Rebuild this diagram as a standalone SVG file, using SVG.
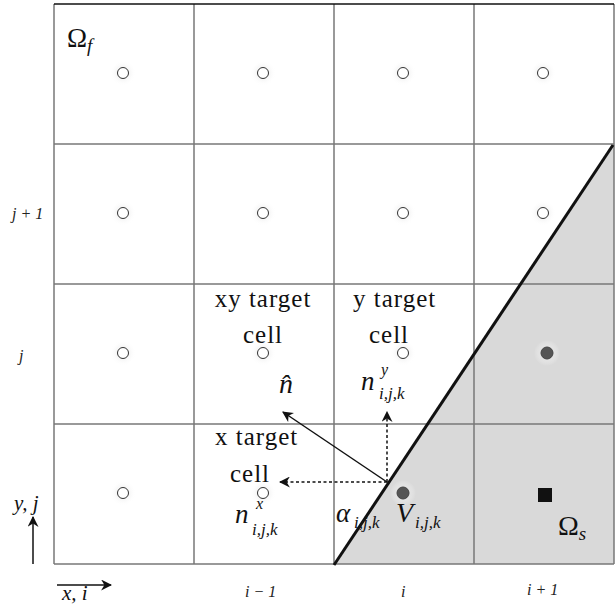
<svg xmlns="http://www.w3.org/2000/svg" width="616" height="606" viewBox="0 0 616 606">
<style>
.grid{stroke:#777;stroke-width:1.5;fill:none}
.t{font-family:"Liberation Serif",serif;font-size:25px;letter-spacing:1px;fill:#111}
.m{font-family:"Liberation Serif",serif;font-style:italic;fill:#111}
.up{font-family:"Liberation Serif",serif;font-style:normal;fill:#111}
.ax{font-family:"Liberation Serif",serif;font-style:italic;font-size:16px;fill:#222}
.c{fill:#fff;stroke:#333;stroke-width:1}
.f{fill:#555;stroke:#444;stroke-width:1}
.sol{stroke:#111;stroke-width:1.5;fill:none}
.dash{stroke:#111;stroke-width:1.5;stroke-dasharray:3,2.5;fill:none}
</style>
<defs>
<radialGradient id="glow">
<stop offset="0" stop-color="#ddd" stop-opacity="1"/>
<stop offset="1" stop-color="#fff" stop-opacity="0"/>
</radialGradient>
<marker id="ah" viewBox="0 0 10 10" refX="9" refY="5" markerWidth="11" markerHeight="11" markerUnits="userSpaceOnUse" orient="auto">
<path d="M0,0 L10,5 L0,10 L3,5 Z" fill="#111"/>
</marker>
</defs>
<rect width="616" height="606" fill="#fff"/>
<g id="solid-region">
<polygon points="334,564 614,144 614,564" fill="#d9d9d9"/>
</g>
<g id="grid">
<line class="grid" x1="54" y1="4" x2="54" y2="564"/>
<line class="grid" x1="194" y1="4" x2="194" y2="564"/>
<line class="grid" x1="334" y1="4" x2="334" y2="564"/>
<line class="grid" x1="474" y1="4" x2="474" y2="564"/>
<line class="grid" x1="614" y1="4" x2="614" y2="564"/>
<line class="grid" x1="54" y1="144" x2="614" y2="144"/>
<line class="grid" x1="54" y1="284" x2="614" y2="284"/>
<line class="grid" x1="54" y1="424" x2="614" y2="424"/>
<line class="grid" x1="54" y1="564" x2="614" y2="564"/>
<line x1="54" y1="4" x2="614" y2="4" stroke="#111" stroke-width="1.5"/>
</g>
<g id="interface">
<line x1="334" y1="565" x2="613" y2="145" stroke="#111" stroke-width="3"/>
</g>
<g id="cells">
<g id="glows" fill="url(#glow)">
<circle cx="123" cy="73" r="13"/><circle cx="263" cy="73" r="13"/><circle cx="403" cy="73" r="13"/><circle cx="543" cy="73" r="13"/>
<circle cx="123" cy="213" r="13"/><circle cx="263" cy="213" r="13"/><circle cx="403" cy="213" r="13"/><circle cx="543" cy="213" r="13"/>
<circle cx="123" cy="353" r="13"/><circle cx="263" cy="353" r="13"/><circle cx="403" cy="353" r="13"/><circle cx="547" cy="353" r="13"/>
<circle cx="123" cy="493" r="13"/><circle cx="263" cy="493" r="13"/><circle cx="403" cy="493" r="13"/>
</g>
<g id="c11"><circle class="c" cx="123" cy="73" r="5.5"/></g>
<g id="c12"><circle class="c" cx="263" cy="73" r="5.5"/></g>
<g id="c13"><circle class="c" cx="403" cy="73" r="5.5"/></g>
<g id="c14"><circle class="c" cx="543" cy="73" r="5.5"/></g>
<g id="c21"><circle class="c" cx="123" cy="213" r="5.5"/></g>
<g id="c22"><circle class="c" cx="263" cy="213" r="5.5"/></g>
<g id="c23"><circle class="c" cx="403" cy="213" r="5.5"/></g>
<g id="c24"><circle class="c" cx="543" cy="213" r="5.5"/></g>
<g id="c31"><circle class="c" cx="123" cy="353" r="5.5"/></g>
<g id="c32"><circle class="c" cx="263" cy="353" r="5.5"/></g>
<g id="c33"><circle class="c" cx="403" cy="353" r="5.5"/></g>
<g id="c34"><circle class="f" cx="547" cy="353" r="6"/></g>
<g id="c41"><circle class="c" cx="123" cy="493" r="5.5"/></g>
<g id="c42"><circle class="c" cx="263" cy="493" r="5.5"/></g>
<g id="c43"><circle class="f" cx="403" cy="493" r="6"/></g>
<g id="c44"><rect x="538" y="488" width="14" height="14" fill="#111"/></g>
</g>
<g id="connectors">
<line class="sol" x1="387" y1="482" x2="283" y2="412" marker-end="url(#ah)"/>
<line class="dash" x1="387" y1="482" x2="387" y2="412" marker-end="url(#ah)"/>
<line class="dash" x1="387" y1="482" x2="280" y2="482" marker-end="url(#ah)"/>
<line class="sol" x1="33" y1="564" x2="33" y2="517" marker-end="url(#ah)"/>
<line class="sol" x1="57" y1="585" x2="111" y2="585" marker-end="url(#ah)"/>
</g>
<g id="labels">
<text class="up" x="67" y="47" font-size="27">Ω<tspan class="m" font-size="19" dy="5">f</tspan></text>
<text class="up" x="558" y="535" font-size="28">Ω<tspan class="m" font-size="19" dy="5">s</tspan></text>
<text class="t" x="263" y="307" text-anchor="middle">xy target</text>
<text class="t" x="263" y="343" text-anchor="middle">cell</text>
<text class="t" x="353" y="307">y target</text>
<text class="t" x="389" y="343" text-anchor="middle">cell</text>
<text class="t" x="215" y="445">x target</text>
<text class="t" x="250" y="482" text-anchor="middle">cell</text>
<text class="m" x="279" y="393" font-size="28">n̂</text>
<text class="m" x="361" y="390" font-size="27">n<tspan font-size="16" x="381" y="375">y</tspan><tspan font-size="17" x="379" y="399">i,j,k</tspan></text>
<text class="m" x="235" y="523" font-size="27">n<tspan font-size="16" x="256" y="509">x</tspan><tspan font-size="17" x="252" y="535">i,j,k</tspan></text>
<text class="m" x="336" y="522" font-size="27">α<tspan font-size="17" x="354" y="528">i,j,k</tspan></text>
<text class="m" x="396" y="522" font-size="28">V<tspan font-size="17" x="415" y="528">i,j,k</tspan></text>
<text class="ax" x="12" y="219">j + 1</text>
<text class="ax" x="19" y="361">j</text>
<text class="m" x="14" y="510" font-size="21">y, j</text>
<text class="m" x="62" y="600" font-size="21">x, i</text>
<text class="ax" x="245" y="597">i − 1</text>
<text class="ax" x="401" y="597">i</text>
<text class="ax" x="527" y="595">i + 1</text>
</g>
</svg>
